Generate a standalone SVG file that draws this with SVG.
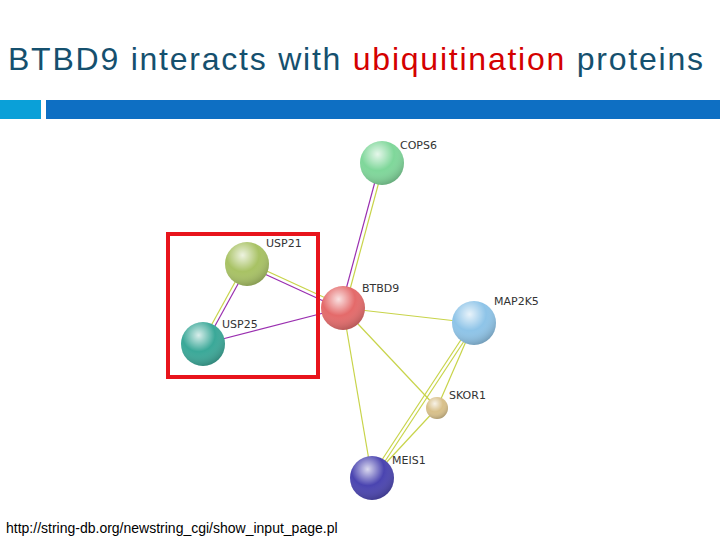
<svg xmlns="http://www.w3.org/2000/svg" width="720" height="540" viewBox="0 0 720 540">
<style>
.lbl{font-family:"DejaVu Sans",sans-serif;font-size:11px;fill:#333}
.y{stroke:#c8d44a;stroke-width:1.2;fill:none}
.p{stroke:#9a2fb0;stroke-width:1.2;fill:none}
</style>
<defs>
<radialGradient id="g" cx="0.4" cy="0.3" r="0.75"><stop offset="0" stop-color="#fff" stop-opacity="0.8"/><stop offset="0.5" stop-color="#fff" stop-opacity="0"/><stop offset="1" stop-color="#000" stop-opacity="0.25"/></radialGradient>
</defs>
<rect width="720" height="540" fill="#fff"/>
<text x="8" y="70" font-family="Liberation Sans,Arial,sans-serif" font-size="32" fill="#15506e" textLength="695" lengthAdjust="spacing">BTBD9 interacts with <tspan fill="#d40000">ubiquitination</tspan> proteins</text>
<rect x="0" y="100" width="41" height="19" fill="#0aa0d8"/>
<rect x="46" y="100" width="674" height="19" fill="#0e6fc3"/>
<g id="connectors">
<line class="p" x1="380" y1="163" x2="341" y2="308"/><line class="y" x1="384" y1="163" x2="345" y2="308"/>
<line class="y" x1="247" y1="262" x2="343" y2="306"/><line class="p" x1="247" y1="266" x2="343" y2="310"/>
<line class="y" x1="245" y1="264" x2="201" y2="344"/><line class="p" x1="249" y1="264" x2="205" y2="344"/>
<line class="p" x1="203" y1="344" x2="343" y2="308"/>
<line class="y" x1="343" y1="308" x2="474" y2="323"/>
<line class="y" x1="343" y1="308" x2="437" y2="408"/>
<line class="y" x1="343" y1="308" x2="372" y2="478"/>
<line class="y" x1="472" y1="323" x2="370" y2="478"/><line class="y" x1="476" y1="323" x2="374" y2="478"/>
<line class="y" x1="474" y1="323" x2="437" y2="408"/>
<line class="y" x1="437" y1="408" x2="372" y2="478"/>
</g>
<g id="COPS6"><circle cx="382" cy="163" r="22" fill="#7fd79a"/><circle cx="382" cy="163" r="22" fill="url(#g)"/><text class="lbl" x="400" y="149">COPS6</text></g>
<g id="USP21"><circle cx="247" cy="264" r="22" fill="#a8c264"/><circle cx="247" cy="264" r="22" fill="url(#g)"/><text class="lbl" x="266" y="247">USP21</text></g>
<g id="USP25"><circle cx="203" cy="344" r="22" fill="#3aa898"/><circle cx="203" cy="344" r="22" fill="url(#g)"/><text class="lbl" x="222" y="328">USP25</text></g>
<g id="BTBD9"><circle cx="343" cy="308" r="22" fill="#e46a6a"/><circle cx="343" cy="308" r="22" fill="url(#g)"/><text class="lbl" x="362" y="292">BTBD9</text></g>
<g id="MAP2K5"><circle cx="474" cy="323" r="22" fill="#8ec4e8"/><circle cx="474" cy="323" r="22" fill="url(#g)"/><text class="lbl" x="494" y="305">MAP2K5</text></g>
<g id="SKOR1"><circle cx="437" cy="408" r="11" fill="#d8c08a"/><circle cx="437" cy="408" r="11" fill="url(#g)"/><text class="lbl" x="449" y="399">SKOR1</text></g>
<g id="MEIS1"><circle cx="372" cy="478" r="22" fill="#4a44b0"/><circle cx="372" cy="478" r="22" fill="url(#g)"/><text class="lbl" x="392" y="464">MEIS1</text></g>
<rect x="168" y="234" width="150" height="143" fill="none" stroke="#e8141c" stroke-width="4"/>
<text x="6" y="533" font-family="Liberation Sans,Arial,sans-serif" font-size="14" fill="#000">http://string-db.org/newstring_cgi/show_input_page.pl</text>
</svg>
